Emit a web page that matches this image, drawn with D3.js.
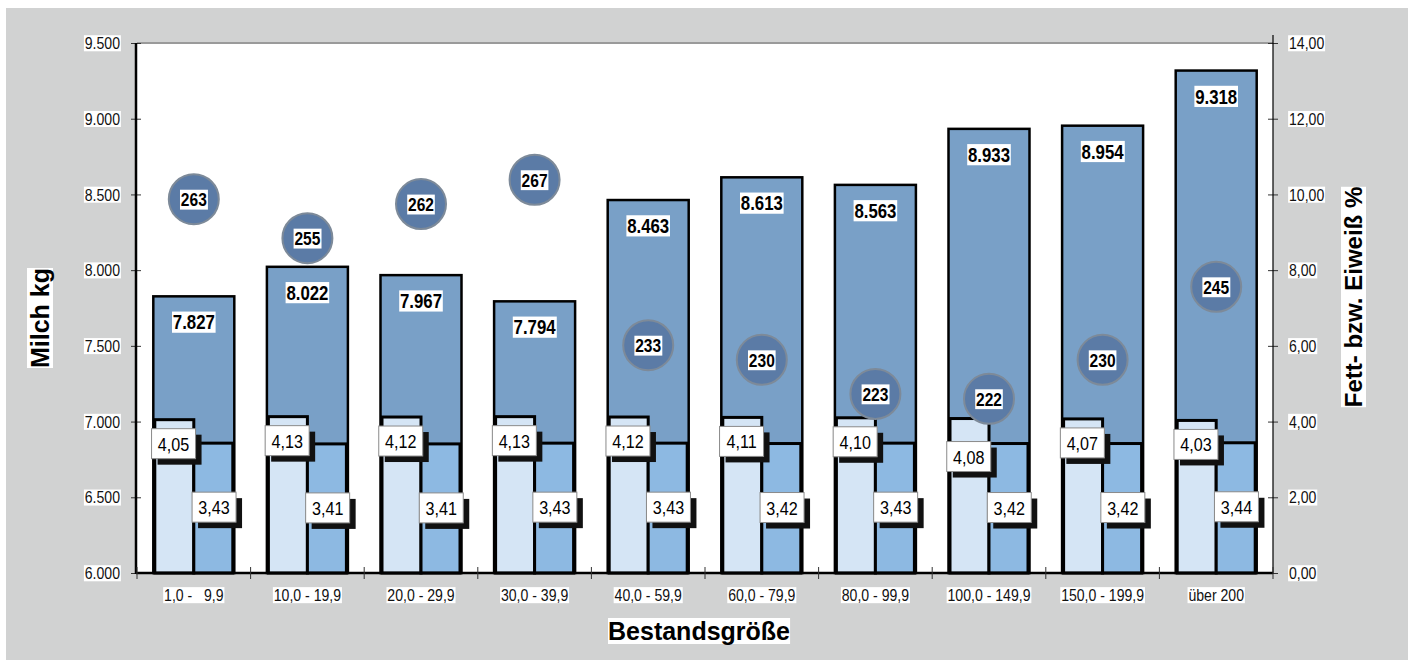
<!DOCTYPE html>
<html>
<head>
<meta charset="utf-8">
<script src="https://cdn.jsdelivr.net/npm/d3@7"></script>
<style>
  body { margin: 0; background: #fff; }
  svg { display: block; font-family: "Liberation Sans", Arial, sans-serif; }
</style>
</head>
<body>
<script>
// Bestandsgröße classes
const categories = ["1,0 -   9,9", "10,0 - 19,9", "20,0 - 29,9", "30,0 - 39,9", "40,0 - 59,9",
                    "60,0 - 79,9", "80,0 - 99,9", "100,0 - 149,9", "150,0 - 199,9", "über 200"];
const milk    = [7827, 8022, 7967, 7794, 8463, 8613, 8563, 8933, 8954, 9318];
const fat     = [4.05, 4.13, 4.12, 4.13, 4.12, 4.11, 4.10, 4.08, 4.07, 4.03];
const protein = [3.43, 3.41, 3.41, 3.43, 3.43, 3.42, 3.43, 3.42, 3.42, 3.44];
const bubbles = [263, 255, 262, 267, 233, 230, 223, 222, 230, 245];

const milkTicks = d3.range(6000, 9501, 500);
const pctTicks  = d3.range(0, 14.01, 2);

const width = 1413, height = 666;
const plot = {left: 137, right: 1273, top: 43, bottom: 573};

const de = d3.formatLocale({decimal: ",", thousands: ".", grouping: [3], currency: ["", " €"]});
const fmtMilk = de.format(",d");
const fmtPct  = de.format(".2f");
const fmtVal  = de.format(".2f");

const svg = d3.select("body").append("svg")
    .attr("width", width)
    .attr("height", height);

// gray frame + white plot area
svg.append("rect")
    .attr("x", 6).attr("y", 8)
    .attr("width", 1402).attr("height", 652)
    .attr("fill", "#d1d2d2");
svg.append("rect")
    .attr("x", plot.left).attr("y", plot.top)
    .attr("width", plot.right - plot.left).attr("height", plot.bottom - plot.top)
    .attr("fill", "#fff");
svg.append("line")
    .attr("x1", plot.left).attr("x2", plot.right)
    .attr("y1", plot.top).attr("y2", plot.top)
    .attr("stroke", "#9a9a9a").attr("stroke-width", 2);

const x = d3.scaleBand(categories, [plot.left, plot.right])
    .paddingInner(0.287)
    .paddingOuter(0.1435);
const xSub = d3.scaleBand(["fat", "protein"], [0, x.bandwidth()]);

const yMilk = d3.scaleLinear([6000, 9500], [plot.bottom, plot.top]);
const yPct  = d3.scaleLinear([0, 14], [plot.bottom, plot.top]);
const yBub  = d3.scaleLinear([186.2, 295.1], [plot.bottom, plot.top]);

// white box tight behind a text element
function backText(sel, pad) {
  sel.each(function () {
    const b = this.getBBox();
    const t = this.getAttribute("transform") || "";
    d3.select(this.parentNode).insert("rect", () => this)
        .attr("transform", t)
        .attr("x", b.x - pad).attr("y", b.y + 1)
        .attr("width", b.width + 2 * pad).attr("height", b.height - 2)
        .attr("fill", "#fff");
  });
}

// ---- bars
const g = svg.append("g");

g.selectAll("rect.milk")
  .data(milk)
  .join("rect")
    .attr("class", "milk")
    .attr("x", (d, i) => x(categories[i]))
    .attr("y", d => yMilk(d))
    .attr("width", x.bandwidth())
    .attr("height", d => yMilk(6000) - yMilk(d))
    .attr("fill", "#79a0c7")
    .attr("stroke", "#000")
    .attr("stroke-width", 2.5);

g.selectAll("rect.fat")
  .data(fat)
  .join("rect")
    .attr("class", "fat")
    .attr("x", (d, i) => x(categories[i]) + xSub("fat") + 1.5)
    .attr("y", d => yPct(d))
    .attr("width", xSub.bandwidth() - 1.5)
    .attr("height", d => yPct(0) - yPct(d))
    .attr("fill", "#d5e5f5")
    .attr("stroke", "#000")
    .attr("stroke-width", 3);

g.selectAll("rect.protein")
  .data(protein)
  .join("rect")
    .attr("class", "protein")
    .attr("x", (d, i) => x(categories[i]) + xSub("protein"))
    .attr("y", d => yPct(d))
    .attr("width", xSub.bandwidth() - 1.5)
    .attr("height", d => yPct(0) - yPct(d))
    .attr("fill", "#8db9e2")
    .attr("stroke", "#000")
    .attr("stroke-width", 3);

// milk value labels
g.selectAll("text.milk")
  .data(milk)
  .join("text")
    .attr("class", "milk")
    .attr("transform", (d, i) => `translate(${x(categories[i]) + x.bandwidth() / 2},${yMilk(d) + 33}) scale(0.8,1)`)
    .attr("text-anchor", "middle")
    .attr("font-size", 21)
    .attr("font-weight", "bold")
    .text(d => fmtMilk(d))
    .call(backText, 1);

// ---- bubbles
const bub = g.selectAll("g.bub")
  .data(bubbles)
  .join("g")
    .attr("class", "bub")
    .attr("transform", (d, i) => `translate(${x(categories[i]) + x.bandwidth() / 2},${yBub(d)})`);

bub.append("circle")
    .attr("r", 25)
    .attr("fill", "#5b7ba6")
    .attr("stroke", "#7d8a99")
    .attr("stroke-width", 2);

bub.append("text")
    .attr("transform", "translate(0,7) scale(0.82,1)")
    .attr("text-anchor", "middle")
    .attr("font-size", 19)
    .attr("font-weight", "bold")
    .text(d => d)
    .call(backText, 1);

// ---- fat / protein boxed labels
function boxLabels(values, key, offset) {
  const lab = g.selectAll(`g.lab-${key}`)
    .data(values)
    .join("g")
      .attr("class", `lab-${key}`)
      .attr("transform", (d, i) => {
        const cx = x(categories[i]) + xSub(key) + xSub.bandwidth() / 2;
        // the 100,0 - 149,9 fat label sits lower to clear the bubble
        const nudge = (key === "fat" && i === 7) ? 14 : 0;
        return `translate(${cx},${yPct(d) + offset + nudge})`;
      });
  lab.append("rect")
      .attr("x", -22 + 6).attr("y", -15 + 6)
      .attr("width", 44).attr("height", 30)
      .attr("fill", "#111");
  lab.append("rect")
      .attr("x", -22).attr("y", -15)
      .attr("width", 44).attr("height", 30)
      .attr("fill", "#fff")
      .attr("stroke", "#8a8a8a")
      .attr("stroke-width", 1);
  lab.append("text")
      .attr("transform", "translate(0,7) scale(0.85,1)")
      .attr("text-anchor", "middle")
      .attr("font-size", 19)
      .text(d => fmtVal(d));
}
boxLabels(fat, "fat", 24);
boxLabels(protein, "protein", 64);

// ---- axes
function crossTicks(axisG, horizontal) {
  axisG.select(".domain").remove();
  axisG.selectAll(".tick line")
      .attr(horizontal ? "x1" : "y1", -5)
      .attr(horizontal ? "x2" : "y2", 5)
      .attr("stroke", "#333");
}

const axL = svg.append("g")
    .attr("transform", `translate(${plot.left - 1},0)`)
    .call(d3.axisLeft(yMilk).tickValues(milkTicks).tickFormat(fmtMilk).tickSize(0).tickPadding(0));
crossTicks(axL, true);
axL.selectAll(".tick text")
    .attr("font-size", 16)
    .attr("font-family", null)
    .attr("fill", "#111")
    .attr("x", -16 / 0.88)
    .attr("dy", "0.35em")
    .attr("transform", "scale(0.88,1)")
    .call(backText, 1);
axL.append("line")
    .attr("x1", 0).attr("x2", 0)
    .attr("y1", plot.top).attr("y2", plot.bottom + 1)
    .attr("stroke", "#000").attr("stroke-width", 2.5);

const axR = svg.append("g")
    .attr("transform", `translate(${plot.right},0)`)
    .call(d3.axisRight(yPct).tickValues(pctTicks).tickFormat(fmtPct).tickSize(0).tickPadding(0));
crossTicks(axR, true);
axR.selectAll(".tick text")
    .attr("font-size", 16)
    .attr("font-family", null)
    .attr("fill", "#111")
    .attr("x", 16 / 0.88)
    .attr("dy", "0.35em")
    .attr("transform", "scale(0.88,1)")
    .call(backText, 1);
axR.append("line")
    .attr("x1", 0).attr("x2", 0)
    .attr("y1", plot.top - 8).attr("y2", plot.bottom + 1)
    .attr("stroke", "#000").attr("stroke-width", 1.2);

// bottom axis: line, boundary ticks, category labels
const axB = svg.append("g");
axB.append("line")
    .attr("x1", plot.left - 1).attr("x2", plot.right)
    .attr("y1", plot.bottom).attr("y2", plot.bottom)
    .attr("stroke", "#000").attr("stroke-width", 2.5);
const gap = (x.step() - x.bandwidth()) / 2;
const edges = categories.map(c => x(c) - gap).concat([x(categories[categories.length - 1]) + x.bandwidth() + gap]);
axB.selectAll("line.tick")
  .data(edges)
  .join("line")
    .attr("class", "tick")
    .attr("x1", d => d).attr("x2", d => d)
    .attr("y1", plot.bottom - 6).attr("y2", plot.bottom + 6)
    .attr("stroke", "#333");
axB.selectAll("text")
  .data(categories)
  .join("text")
    .attr("transform", d => `translate(${x(d) + x.bandwidth() / 2},${plot.bottom + 28}) scale(0.88,1)`)
    .attr("text-anchor", "middle")
    .attr("font-size", 16)
    .attr("fill", "#111")
    .style("white-space", "pre")
    .text(d => d)
    .call(backText, 1);

// ---- axis titles
svg.append("text")
    .attr("transform", `translate(49,${(plot.top + plot.bottom) / 2 + 10}) rotate(-90)`)
    .attr("text-anchor", "middle")
    .attr("font-size", 25)
    .attr("font-weight", "bold")
    .text("Milch kg")
    .call(backText, 0);

svg.append("text")
    .attr("transform", `translate(1362,${(plot.top + plot.bottom) / 2 - 11}) rotate(-90)`)
    .attr("text-anchor", "middle")
    .attr("font-size", 24)
    .attr("font-weight", "bold")
    .text("Fett- bzw. Eiweiß %")
    .call(backText, 0);

svg.append("text")
    .attr("transform", `translate(699,640)`)
    .attr("text-anchor", "middle")
    .attr("font-size", 25)
    .attr("font-weight", "bold")
    .text("Bestandsgröße")
    .call(backText, 0);
</script>
</body>
</html>
